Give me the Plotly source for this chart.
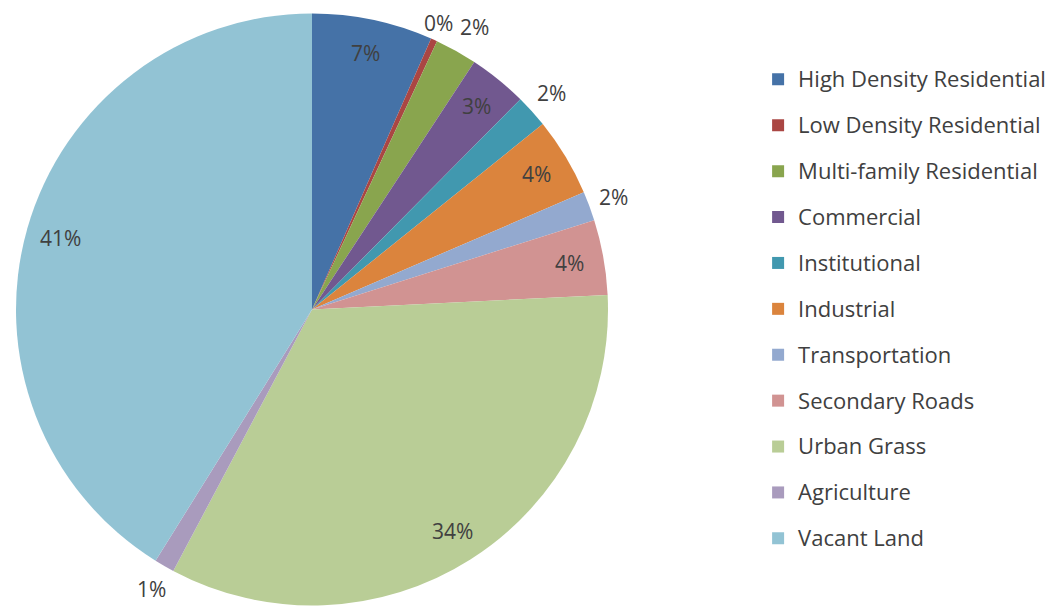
import math
import plotly.graph_objects as go

categories = ["High Density Residential", "Low Density Residential", "Multi-family Residential",
              "Commercial", "Institutional", "Industrial", "Transportation",
              "Secondary Roads", "Urban Grass", "Agriculture", "Vacant Land"]
shares = [6.6, 0.35, 2.3, 3.2, 1.8, 4.3, 1.6, 4.1, 33.6, 1.1, 41.2]
colors = ["#4572A7", "#AA4643", "#89A54E", "#71588F", "#4198AF", "#DB843D",
          "#93A9CF", "#D19392", "#B9CD96", "#A99BBD", "#92C3D4"]
label_inside = [True, False, False, True, False, True, False, True, True, False, True]

FONT = "Open Sans"
TXT = "#404040"
W, H = 1055, 606
OFF = 8                               # page body margin of the html output
CX, CY, R = 312, 309.5, 296           # pie centre / radius in page pixels
fx, fy = CX - OFF, CY - OFF           # centre in figure pixels
dom_x = [(fx - R) / W, (fx + R) / W]
dom_y = [(H - fy - R) / H, (H - fy + R) / H]

legend_labels = ['<span style="font-size:22px;baseline-shift:5px">%s</span>' % c
                 for c in categories]

fig = go.Figure(go.Pie(
    labels=legend_labels,
    values=shares,
    sort=False,
    direction="clockwise",
    rotation=0,
    marker=dict(colors=colors, line=dict(width=0)),
    textinfo="none",
    domain=dict(x=dom_x, y=dom_y),
    hovertemplate="%{label}: %{percent}<extra></extra>",
))

# Excel-style data labels: inside ones on the bisector, outside ones just past the rim
total = sum(shares)
labels_px = []
cum = 0.0
for v, ins in zip(shares, label_inside):
    mid = (cum + v / 2) / total * 2 * math.pi
    cum += v
    s, c = math.sin(mid), -math.cos(mid)
    if ins:
        r = 0.885 * R
        px, py = CX + r * s, CY + r * c
    else:
        r = R + 11
        px, py = CX + r * s + 15 * s, CY + r * c + 16 * c
        py = max(py, OFF + 15)        # keep the label box inside the figure
    labels_px.append([px, py, ins, "%d%%" % round(v / total * 100)])

# resolve clashes between neighbouring outside labels
outs = [l for l in labels_px if not l[2]]
for a, b in zip(outs, outs[1:]):
    if abs(a[1] - b[1]) < 22 and abs(a[0] - b[0]) < 36:
        need = (36 - abs(a[0] - b[0])) / 2
        sgn = 1 if b[0] >= a[0] else -1
        a[0] -= sgn * need
        b[0] += sgn * need

for px, py, ins, txt in labels_px:
    fig.add_annotation(x=(px - OFF) / W, y=1 - (py - OFF) / H, xref="paper", yref="paper",
                       xanchor="center", yanchor="middle",
                       text=txt, showarrow=False,
                       font=dict(family=FONT, size=21, color=TXT))

fig.update_layout(
    width=W, height=H,
    margin=dict(l=0, r=0, t=0, b=0, autoexpand=False),
    paper_bgcolor="white",
    showlegend=True,
    legend=dict(x=0.711, y=0.9284, xanchor="left", yanchor="top",
                font=dict(family=FONT, size=33, color=TXT),
                bgcolor="rgba(0,0,0,0)"),
)

fig.write_html("out.html")
